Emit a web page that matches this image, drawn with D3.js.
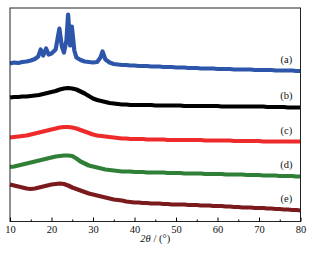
<!DOCTYPE html>
<html>
<head>
<meta charset="utf-8">
<script src="https://cdn.jsdelivr.net/npm/d3@7"></script>
<style>
  body { margin: 0; background: #fff; }
  svg { display: block; font-family: "Liberation Serif", "Times New Roman", serif; }
</style>
</head>
<body>
<div id="chart"></div>
<script>
// 2θ positions (degrees)
const degrees = d3.range(10, 81);
const aTheta = [10, 11, 12, 13, 14, 15, 16, 16.8, 17.4, 18, 18.7, 19.3, 20, 21, 21.9, 22.5, 23, 23.6, 24, 24.5, 24.9, 25.5, 26, 27, 28, 29, 30, 31, 31.8, 32.3, 33, 34, 35,
  36, 37, 38, 39, 40, 41, 42, 43, 44, 45, 46, 47, 48, 49, 50, 51, 52, 53, 54, 55, 56, 57, 58, 59, 60,
  61, 62, 63, 64, 65, 66, 67, 68, 69, 70, 71, 72, 73, 74, 75, 76, 77, 78, 79, 80];

// intensities (a.u., curves already offset as in the figure)
const seriesA = [158, 159, 158.5, 159.5, 160, 161, 162.5, 165, 172, 166, 173, 167, 168, 172, 193, 175, 169, 181, 207, 176, 195, 171, 164, 161.5, 160, 159.5, 159, 159.5, 164, 170, 162, 159, 157.5,
  157, 156.5, 156.5, 156, 156, 155.5, 155.5, 155.5, 155, 155, 155, 154.5, 154.5, 154.5, 154, 154, 154, 153.5, 153.5, 153.5, 153, 153, 153, 153, 152.5,
  152.5, 152.5, 152.5, 152, 152, 152, 152, 152, 151.5, 151.5, 151.5, 151.5, 151.5, 151, 151, 151, 151, 151, 150.5, 150.5];
const seriesB = [124, 124.5, 124.5, 125, 125, 125.5, 126, 126.5, 127.5, 128.5, 129.5, 130.5, 132, 133, 133.5, 133, 132, 130, 128, 125.5, 123,
  121.5, 120.5, 119.5, 118.5, 118, 117.5, 117, 117, 116.5, 116.5, 116.5, 116.5, 116.5, 116.5, 116, 116, 116, 116, 116, 116,
  116, 115.5, 115.5, 115.5, 115.5, 115.5, 115.5, 115.5, 115.5, 115.5, 115, 115, 115, 115, 115, 115, 115, 115, 115, 115,
  115, 114.5, 114.5, 114.5, 114.5, 114.5, 114, 114, 114, 114];
const seriesC = [84, 84.5, 85, 85.5, 86, 87, 88, 89, 90, 91, 92, 93, 94, 94.5, 94.5, 94, 93, 91.5, 90, 88.5, 87,
  86, 85.5, 85, 84.5, 84, 83.5, 83, 83, 82.5, 82.5, 82.5, 82.5, 82, 82, 82, 82, 82, 81.5, 81.5, 81.5,
  81.5, 81.5, 81.5, 81.5, 81.5, 81.5, 81, 81, 81, 81, 81, 81, 81, 80.5, 80.5, 80.5, 80.5, 80.5, 80.5, 80.5,
  80, 80, 80, 80, 80, 80, 80, 80, 80, 80];
const seriesD = [54.5, 55, 56, 57, 58, 59, 60, 61, 62, 63, 64, 65, 65.5, 66, 66, 65.5, 63, 60, 58, 56, 55,
  54, 53, 52, 51.5, 51, 50.5, 50, 50, 50, 49.5, 49.5, 49.5, 49, 49, 49, 49, 49, 48.5, 48.5, 48.5,
  48.5, 48, 48, 48, 48, 48, 47.5, 47.5, 47.5, 47.5, 47.5, 47, 47, 47, 47, 47, 46.5, 46.5, 46.5, 46.5,
  46, 46, 46, 46, 45.5, 45.5, 45.5, 45.5, 45, 45];
const seriesE = [37, 36, 35, 34, 33, 32.5, 33, 34, 35, 36, 37, 37.5, 38, 37.5, 36, 34, 32.5, 31, 29.5, 28, 27,
  26, 25, 24, 23, 22, 21.5, 21, 20, 19.5, 19, 19, 18.5, 18.5, 18, 18, 18, 17.5, 17.5, 17, 17,
  17, 17, 16.5, 16.5, 16.5, 16, 16, 16, 15.5, 15.5, 15.5, 15, 15, 14.5, 14.5, 14, 14, 14, 13.5, 13.5,
  13.5, 13, 13, 12.5, 12.5, 12, 12, 11.5, 11.5, 11];

const labels = ['(a)', '(b)', '(c)', '(d)', '(e)'];
const colors = ['#2d55aa', '#000000', '#ee2a2a', '#2f7f37', '#7a1a1c'];
const majorTicks = [10, 20, 30, 40, 50, 60, 70, 80];
const minorTicks = [15, 25, 35, 45, 55, 65, 75];

const width = 314;
const height = 254;
const margin = { top: 8, right: 13.5, bottom: 32.5, left: 10 };

const series = [
  { x: aTheta, y: seriesA },
  { x: degrees, y: seriesB },
  { x: degrees, y: seriesC },
  { x: degrees, y: seriesD },
  { x: degrees, y: seriesE }
];

const svg = d3.select('#chart').append('svg')
  .attr('width', width)
  .attr('height', height);

const x = d3.scaleLinear()
  .domain([10, 80])
  .range([margin.left, width - margin.right]);
const y = d3.scaleLinear()
  .domain([0, 213.5])
  .range([height - margin.bottom, margin.top]);

const line = d3.line()
  .x(d => x(d[0]))
  .y(d => y(d[1]));

series.forEach((s, i) => {
  svg.append('path')
    .datum(s.x.map((t, j) => [t, s.y[j]]))
    .attr('fill', 'none')
    .attr('stroke', colors[i])
    .attr('stroke-width', 4.2)
    .attr('stroke-linejoin', 'round')
    .attr('d', line);
});

// curve labels
series.forEach((s, i) => {
  const k = s.x.indexOf(76);
  svg.append('text')
    .attr('x', x(76.6))
    .attr('y', y(s.y[k]) - 8)
    .attr('text-anchor', 'middle')
    .style('font-size', '10.5px')
    .attr('fill', '#111')
    .text(labels[i]);
});

// frame
svg.append('rect')
  .attr('x', margin.left)
  .attr('y', margin.top)
  .attr('width', width - margin.left - margin.right)
  .attr('height', height - margin.top - margin.bottom)
  .attr('fill', 'none')
  .attr('stroke', '#222')
  .attr('stroke-width', 1);

const xAxis = svg.append('g')
  .attr('transform', `translate(0,${height - margin.bottom})`)
  .call(d3.axisBottom(x).tickValues(majorTicks).tickSize(-4).tickPadding(4).tickFormat(d3.format('d')));
xAxis.select('.domain').remove();
xAxis.selectAll('text')
  .style('font-size', '10.5px')
  .style('font-family', '"Liberation Serif", serif')
  .attr('fill', '#111');

const xMinor = svg.append('g')
  .attr('transform', `translate(0,${height - margin.bottom})`)
  .call(d3.axisBottom(x).tickValues(minorTicks).tickSize(-2).tickFormat(''));
xMinor.select('.domain').remove();

const title = svg.append('text')
  .attr('x', x(45))
  .attr('y', 242)
  .attr('text-anchor', 'middle')
  .style('font-size', '10.5px')
  .attr('fill', '#111');
title.append('tspan').style('font-style', 'italic').text('2θ');
title.append('tspan').text(' / (°)');
</script>
</body>
</html>
